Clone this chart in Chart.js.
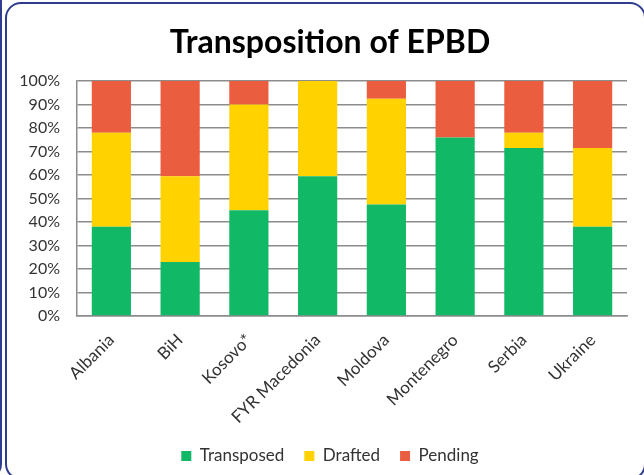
<!DOCTYPE html>
<html>
<head>
<meta charset="utf-8">
<title>Transposition of EPBD</title>
<script src="https://cdn.jsdelivr.net/npm/chart.js@4.4.1/dist/chart.umd.min.js"></script>
<style>
  html, body { margin: 0; padding: 0; background: #fff; overflow: hidden; }
  #wrap { position: relative; width: 644px; height: 475px; overflow: hidden; }
  .frame { position: absolute; border: 2.5px solid #2f3c8e; border-radius: 16px; box-sizing: border-box; }
  #frame-main { left: 5px; top: 2px; width: 641px; height: 478px; }
  #frame-side { left: -100px; top: -20px; width: 102px; height: 500px; }
  #chart { position: absolute; left: 0; top: 0; }
</style>
</head>
<body>
<div id="wrap">
  <div class="frame" id="frame-side"></div>
  <div class="frame" id="frame-main"></div>
  <canvas id="chart" width="660" height="475"></canvas>
</div>
<script>
const categories = ["Albania", "BiH", "Kosovo*", "FYR Macedonia", "Moldova", "Montenegro", "Serbia", "Ukraine"];
const transposed = [38, 23, 45, 59.5, 47.5, 76, 71.5, 38];
const drafted = [40, 36.5, 45, 40.5, 45, 0, 6.5, 33.5];
const pending = [22, 40.5, 10, 0, 7.5, 24, 22, 28.5];
const yTicks = [0, 10, 20, 30, 40, 50, 60, 70, 80, 90, 100];

const fontFamily = "Lato, 'Open Sans', sans-serif";
const gridColor = "#8c8c8c";
const textColor = "#333333";

function makeDataset(label, data, color) {
  return {
    label: label,
    data: data,
    backgroundColor: color,
    borderWidth: 0,
    barPercentage: 0.57,
    categoryPercentage: 1,
  };
}

new Chart(document.getElementById("chart"), {
  type: "bar",
  data: {
    labels: categories,
    datasets: [
      makeDataset("Transposed", transposed, "#11b865"),
      makeDataset("Drafted", drafted, "#ffd200"),
      makeDataset("Pending", pending, "#ea5d3f"),
    ],
  },
  options: {
    responsive: false,
    animation: false,
    devicePixelRatio: 1,
    layout: { padding: { left: 0, right: 0, top: 0, bottom: 0.5 } },
    plugins: {
      title: {
        display: true,
        text: "Transposition of EPBD",
        color: "#000",
        font: { family: fontFamily, size: 32, weight: "bold" },
        padding: { top: 23, bottom: 19.6 },
      },
      legend: {
        position: "bottom",
        labels: {
          boxWidth: 10,
          boxHeight: 10,
          padding: 20,
          color: textColor,
          font: { family: fontFamily, size: 17 },
        },
      },
      tooltip: { enabled: false },
    },
    scales: {
      x: {
        stacked: true,
        grid: { display: false },
        border: { display: true, color: gridColor, width: 1.5 },
        ticks: {
          color: textColor,
          font: { family: fontFamily, size: 17 },
          minRotation: 45,
          maxRotation: 45,
          autoSkip: false,
          padding: 6,
        },
        afterFit: (scale) => { scale.height = 111.5; },
      },
      y: {
        stacked: true,
        min: 0,
        max: 100,
        afterBuildTicks: (scale) => { scale.ticks = yTicks.map((v) => ({ value: v })); },
        grid: { color: gridColor, lineWidth: 1.5, drawTicks: false },
        border: { display: true, color: gridColor, width: 1.5 },
        ticks: {
          color: textColor,
          font: { family: fontFamily, size: 16 },
          padding: 17,
          callback: (value) => value + "%",
        },
        afterFit: (scale) => { scale.width = 77; },
      },
      // empty right-hand spacer so the title and legend centre where the original's do
      spacer: {
        type: "linear",
        axis: "y",
        position: "right",
        display: true,
        grid: { display: false },
        border: { display: false },
        ticks: { display: false },
        afterFit: (scale) => { scale.width = 33; },
      },
    },
  },
});
</script>
</body>
</html>
